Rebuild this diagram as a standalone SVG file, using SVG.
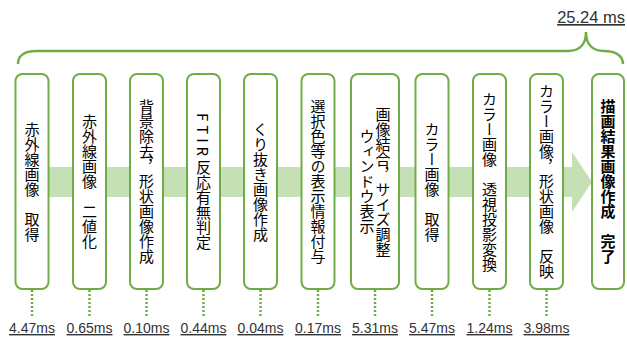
<svg xmlns="http://www.w3.org/2000/svg" width="627" height="337" viewBox="0 0 627 337">
<style>
.box{fill:#fff;stroke:#70AD47;stroke-width:2}
.vt{font-family:"Noto Sans CJK JP","Noto Sans CJK SC",sans-serif;font-size:15px;fill:#000;writing-mode:vertical-rl;text-anchor:middle}
.b{font-weight:bold}
.dot{stroke:#70AD47;stroke-width:2.5;stroke-dasharray:2 2}
.lbl{font-family:"Liberation Sans",Arial,sans-serif;font-size:14px;fill:#333;text-anchor:middle;text-decoration:underline}
</style>
<rect width="627" height="337" fill="#fff"/>
<g id="flow-arrow">
<path d="M30,167 L572,167 L572,152 L592,182 L572,212 L572,197 L30,197 Z" fill="#C5E0B4"/>
</g>
<g id="brace">
<path d="M18,64 C18,56 24,51 36,51 L568,51 C580,51 586,44 586,32 C586,44 592,51 604,51 C616,51 623,56 623,64" fill="none" stroke="#70AD47" stroke-width="2.5"/>
<text x="625" y="23" font-family="Liberation Sans,Arial,sans-serif" font-size="16.5" fill="#333" text-anchor="end" text-decoration="underline">25.24 ms</text>
</g>
<g id="connectors">
<line class="dot" x1="32" y1="290" x2="32" y2="316"/>
<line class="dot" x1="89.5" y1="290" x2="89.5" y2="316"/>
<line class="dot" x1="146.5" y1="290" x2="146.5" y2="316"/>
<line class="dot" x1="203.5" y1="290" x2="203.5" y2="316"/>
<line class="dot" x1="260.5" y1="290" x2="260.5" y2="316"/>
<line class="dot" x1="318" y1="290" x2="318" y2="316"/>
<line class="dot" x1="375" y1="290" x2="375" y2="316"/>
<line class="dot" x1="432" y1="290" x2="432" y2="316"/>
<line class="dot" x1="489.5" y1="290" x2="489.5" y2="316"/>
<line class="dot" x1="546.5" y1="290" x2="546.5" y2="316"/>
</g>
<g id="n1"><rect class="box" x="15.5" y="74" width="33" height="215" rx="7"/><text class="vt" x="32" y="181.5">赤外線画像　取得</text><text class="lbl" x="32" y="333">4.47ms</text></g>
<g id="n2"><rect class="box" x="73" y="74" width="33" height="215" rx="7"/><text class="vt" x="89.5" y="181.5">赤外線画像　二値化</text><text class="lbl" x="89.5" y="333">0.65ms</text></g>
<g id="n3"><rect class="box" x="130" y="74" width="33" height="215" rx="7"/><text class="vt" x="146.5" y="181.5">背景除去，形状画像作成</text><text class="lbl" x="146.5" y="333">0.10ms</text></g>
<g id="n4"><rect class="box" x="187" y="74" width="33" height="215" rx="7"/><text class="vt" x="203.5" y="181.5"><tspan letter-spacing="4">FTIR</tspan>反応有無判定</text><text class="lbl" x="203.5" y="333">0.44ms</text></g>
<g id="n5"><rect class="box" x="244" y="74" width="33" height="215" rx="7"/><text class="vt" x="260.5" y="181.5">くり抜き画像作成</text><text class="lbl" x="260.5" y="333">0.04ms</text></g>
<g id="n6"><rect class="box" x="301.5" y="74" width="33" height="215" rx="7"/><text class="vt" x="318" y="181.5">選択色等の表示情報付与</text><text class="lbl" x="318" y="333">0.17ms</text></g>
<g id="n7"><rect class="box" x="351" y="74" width="48" height="215" rx="7"/><text class="vt" x="383" y="181.5">画像結合，サイズ調整</text><text class="vt" x="367" y="181.5">ウィンドウ表示</text><text class="lbl" x="375" y="333">5.31ms</text></g>
<g id="n8"><rect class="box" x="415.5" y="74" width="33" height="215" rx="7"/><text class="vt" x="432" y="181.5">カラー画像　取得</text><text class="lbl" x="432" y="333">5.47ms</text></g>
<g id="n9"><rect class="box" x="473" y="74" width="33" height="215" rx="7"/><text class="vt" x="489.5" y="181.5">カラー画像　透視投影変換</text><text class="lbl" x="489.5" y="333">1.24ms</text></g>
<g id="n10"><rect class="box" x="530" y="74" width="33" height="215" rx="7"/><text class="vt" x="546.5" y="181.5">カラー画像，形状画像　反映</text><text class="lbl" x="546.5" y="333">3.98ms</text></g>
<g id="n11"><rect class="box" x="592" y="74" width="32" height="215" rx="7"/><text class="vt b" x="608" y="181.5">描画結果画像作成　完了</text></g>
</svg>
